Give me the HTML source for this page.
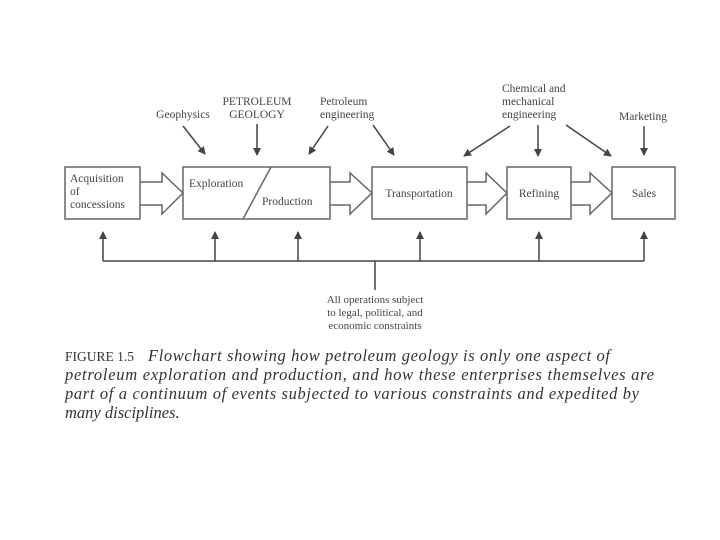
<!DOCTYPE html>
<html><head><style>
body{margin:0;background:#fff;}
svg{display:block;}
text{font-family:"Liberation Serif",serif;fill:#444;}
.cap{font-size:16.5px;fill:#333;}
</style></head><body>
<svg width="720" height="540" viewBox="0 0 720 540">
<defs><marker id="a" markerWidth="8" markerHeight="8" refX="7" refY="4" orient="auto" markerUnits="userSpaceOnUse"><path d="M0,0 L8,4 L0,8 z" fill="#444"/></marker></defs>
<g stroke="#666" stroke-width="1.5" fill="#fff">
<rect x="65" y="167" width="75" height="52"/>
<rect x="183" y="167" width="147" height="52"/>
<rect x="372" y="167" width="95" height="52"/>
<rect x="507" y="167" width="64" height="52"/>
<rect x="612" y="167" width="63" height="52"/>
<line x1="271" y1="167" x2="243" y2="219"/>
<path d="M140,182 H162 V173 L183,193 L162,214 V205 H140" fill="none"/>
<path d="M330,182 H350 V173 L372,193 L350,214 V205 H330" fill="none"/>
<path d="M467,182 H486 V173 L507,193 L486,214 V205 H467" fill="none"/>
<path d="M571,182 H590 V173 L612,193 L590,214 V205 H571" fill="none"/>
</g>
<g stroke="#444" stroke-width="1.5" marker-end="url(#a)">
<line x1="183" y1="126" x2="205" y2="154"/>
<line x1="257" y1="124" x2="257" y2="155"/>
<line x1="328" y1="126" x2="309" y2="154"/>
<line x1="373" y1="125" x2="394" y2="155"/>
<line x1="510" y1="126" x2="464" y2="156"/>
<line x1="538" y1="125" x2="538" y2="156"/>
<line x1="566" y1="125" x2="611" y2="156"/>
<line x1="644" y1="126" x2="644" y2="155"/>
<line x1="103" y1="261" x2="103" y2="232"/>
<line x1="215" y1="261" x2="215" y2="232"/>
<line x1="298" y1="261" x2="298" y2="232"/>
<line x1="420" y1="261" x2="420" y2="232"/>
<line x1="539" y1="261" x2="539" y2="232"/>
<line x1="644" y1="261" x2="644" y2="232"/>
</g>
<g stroke="#444" stroke-width="1.5">
<line x1="103" y1="261" x2="644" y2="261"/>
<line x1="375" y1="261" x2="375" y2="290"/>
</g>
<g font-size="11.5">
<text x="70" y="182">Acquisition</text>
<text x="70" y="195">of</text>
<text x="70" y="208">concessions</text>
<text x="189" y="187">Exploration</text>
<text x="262" y="205">Production</text>
<text x="419" y="197" text-anchor="middle">Transportation</text>
<text x="539" y="197" text-anchor="middle">Refining</text>
<text x="644" y="197" text-anchor="middle">Sales</text>
<text x="183" y="118" text-anchor="middle">Geophysics</text>
<text x="257" y="105" text-anchor="middle">PETROLEUM</text>
<text x="257" y="118" text-anchor="middle">GEOLOGY</text>
<text x="320" y="105">Petroleum</text>
<text x="320" y="118">engineering</text>
<text x="502" y="92">Chemical and</text>
<text x="502" y="105">mechanical</text>
<text x="502" y="118">engineering</text>
<text x="643" y="120" text-anchor="middle">Marketing</text>
<text x="375" y="303" text-anchor="middle" font-size="11">All operations subject</text>
<text x="375" y="316" text-anchor="middle" font-size="11">to legal, political, and</text>
<text x="375" y="329" text-anchor="middle" font-size="11">economic constraints</text>
</g>
<text class="cap" x="65" y="361" style="font-size:13.5px">FIGURE 1.5</text>
<text class="cap" x="148" y="361" font-style="italic" textLength="462">Flowchart showing how petroleum geology is only one aspect of</text>
<text class="cap" x="65" y="380" font-style="italic" textLength="589">petroleum exploration and production, and how these enterprises themselves are</text>
<text class="cap" x="65" y="399" font-style="italic" textLength="574">part of a continuum of events subjected to various constraints and expedited by</text>
<text class="cap" x="65" y="418" font-style="italic">many disciplines.</text>
</svg>
</body></html>
